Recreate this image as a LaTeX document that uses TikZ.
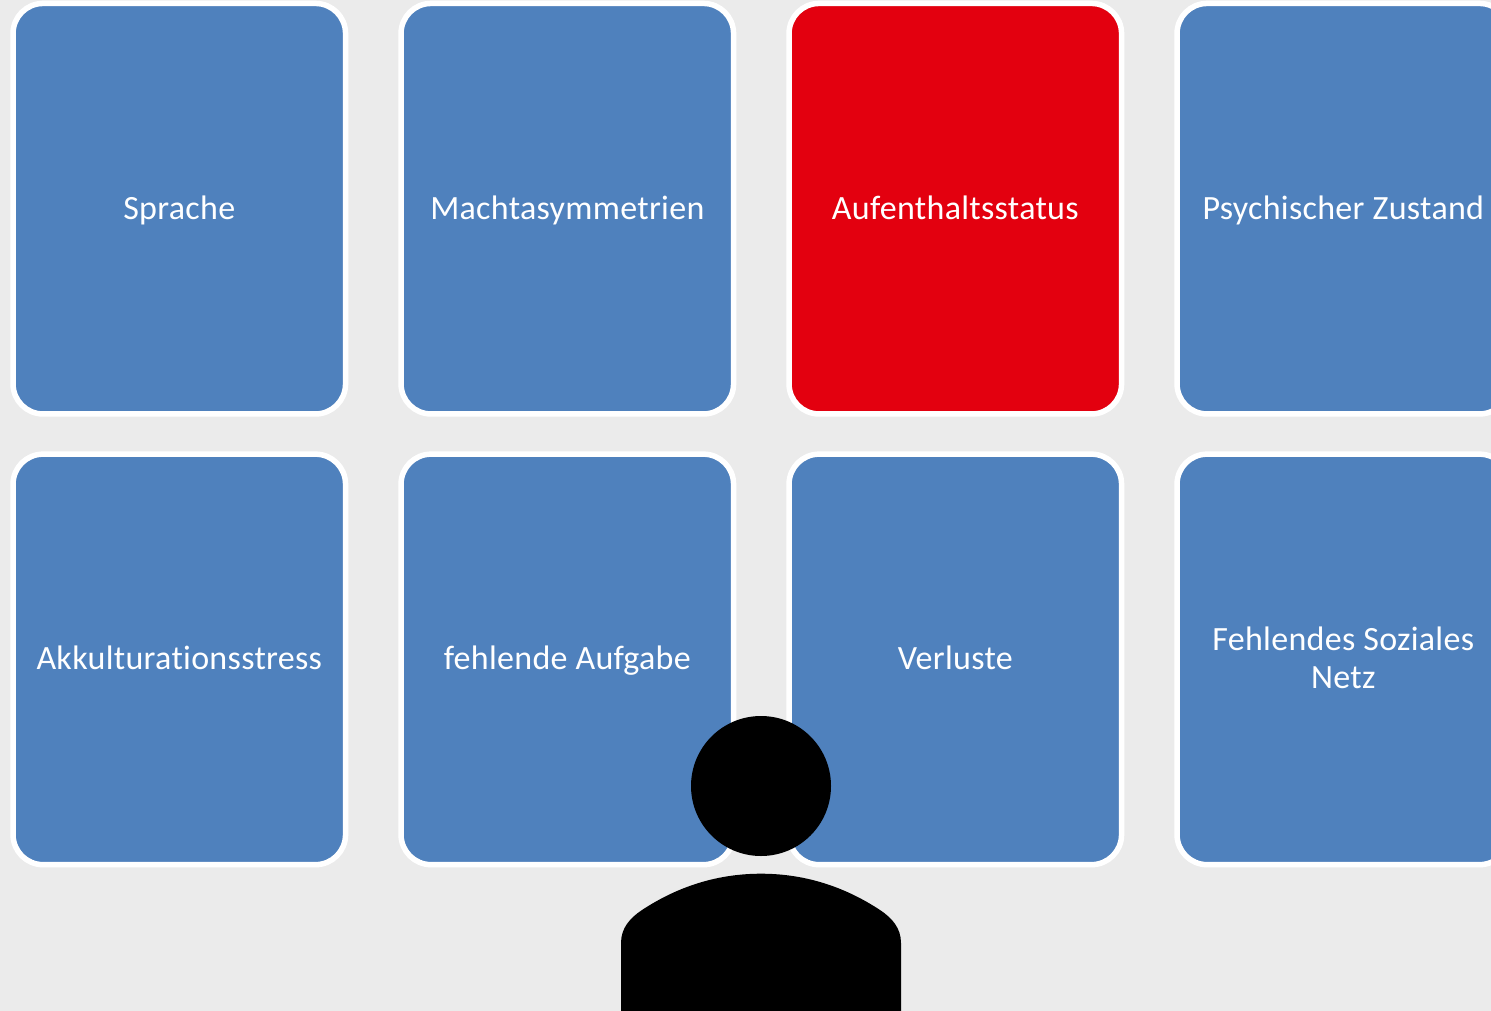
\documentclass[tikz,border=0pt]{standalone}
\usepackage{fontspec}
\setmainfont{Carlito}[LetterSpace=0.9,Ligatures=NoCommon]
\tikzset{
  card/.style={draw=white, line width=5.5pt, rounded corners=30pt, fill=cardblue, text=white,
    minimum width=332.5pt, minimum height=410.5pt, inner sep=0pt, outer sep=0pt, align=center,
    font=\fontsize{34}{38.5}\selectfont, text depth=3pt},
  alert/.style={fill=cardred},
  person/.style={fill=black, draw=none},
}
\definecolor{cardblue}{HTML}{4F81BD}
\definecolor{cardred}{HTML}{E3000F}
\definecolor{bgrey}{HTML}{EBEBEB}
\begin{document}
\begin{tikzpicture}[x=1pt,y=-1pt]
\useasboundingbox (0,0) rectangle (1491,1011);
\clip (0,0) rectangle (1491,1011);
\fill[bgrey] (0,0) rectangle (1491,1011);
\node[card] (sprache) at (179.3,208.7) {Sprache};
\node[card] (macht) at (567.3,208.7) {Machtasymmetrien};
\node[card,alert] (aufenthalt) at (955.3,208.7) {Aufenthaltsstatus};
\node[card] (psych) at (1343.3,208.7) {Psychischer Zustand};
\node[card] (akk) at (179.3,659.4) {Akkulturationsstress};
\node[card] (aufgabe) at (567.3,659.4) {fehlende Aufgabe};
\node[card] (verluste) at (955.3,659.4) {Verluste};
\node[card] (netz) at (1343.3,659.4) {Fehlendes Soziales\\Netz};
\fill[person] (761,786) circle[radius=70];
\fill[person] (621,1020) -- (621,943)
  .. controls (621,928) and (630,918) .. (642,910)
  .. controls (680,885) and (720,873.7) .. (761,873.7)
  .. controls (802,873.7) and (842,885) .. (880,910)
  .. controls (892,918) and (901,928) .. (901,943)
  -- (901,1020) -- cycle;
\end{tikzpicture}
\end{document}
